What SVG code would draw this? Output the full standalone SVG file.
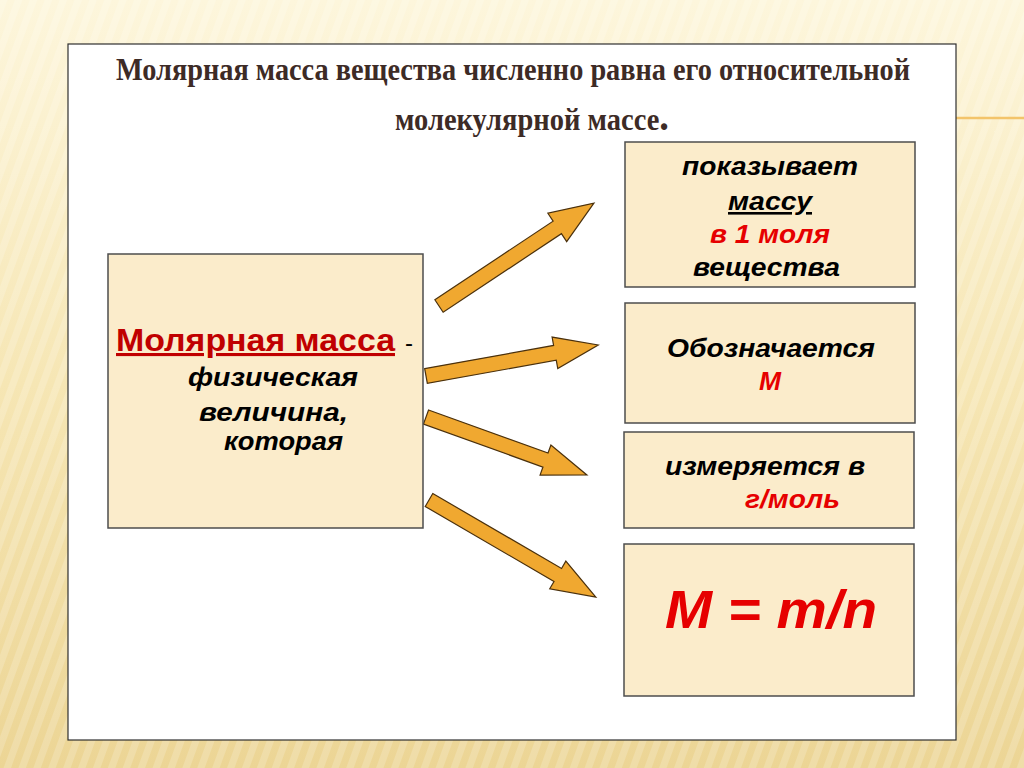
<svg xmlns="http://www.w3.org/2000/svg" width="1024" height="768" viewBox="0 0 1024 768">
  <defs>
    <linearGradient id="bg" x1="0" y1="0" x2="0" y2="1">
      <stop offset="0" stop-color="#fdf6dc"/>
      <stop offset="0.5" stop-color="#f6e6b4"/>
      <stop offset="1" stop-color="#ecd595"/>
    </linearGradient>
    <pattern id="stripes" width="14" height="14" patternUnits="userSpaceOnUse" patternTransform="rotate(20)">
      <rect width="7" height="14" fill="#ffffff" opacity="0.18"/>
    </pattern>
    <style>
      .box { fill: #fbeccb; stroke: #4d4d4d; stroke-width: 1.5; }
      .arrow { fill: #f0a830; stroke: #4a300c; stroke-width: 1.2; stroke-linejoin: miter; }
      .title { font-family: "Liberation Serif", "Times New Roman", serif; font-weight: bold; fill: #3d2b26; font-size: 31px; }
      .t { font-family: "Liberation Sans", Arial, sans-serif; font-weight: bold; font-style: italic; font-size: 26px; fill: #000; }
      .red { fill: #e60000; }
      .dred { fill: #c00000; }
    </style>
  </defs>

  <!-- background -->
  <rect x="0" y="0" width="1024" height="768" fill="url(#bg)"/>
  <rect x="0" y="0" width="1024" height="768" fill="url(#stripes)"/>
  <line x1="940" y1="118" x2="1024" y2="118" stroke="#f3c46a" stroke-width="2.5"/>

  <!-- white panel -->
  <rect x="68" y="44" width="888" height="696" fill="#ffffff" stroke="#2f2f2f" stroke-width="1.2"/>

  <!-- title -->
  <g id="title">
    <text class="title" x="116" y="80" textLength="794" lengthAdjust="spacingAndGlyphs">Молярная масса вещества численно равна его относительной</text>
    <text class="title" x="395" y="130" textLength="274" lengthAdjust="spacingAndGlyphs">молекулярной массе<tspan style="font-size:42px">.</tspan></text>
  </g>

  <!-- connectors -->
  <g id="connectors">
    <polygon class="arrow" transform="translate(439,306) rotate(-33.6)" points="0,-7.5 142,-7.5 142,-17 186,0 142,17 142,7.5 0,7.5"/>
    <polygon class="arrow" transform="translate(426,376) rotate(-10.2)" points="0,-7.5 131,-7.5 131,-16 175,0 131,16 131,7.5 0,7.5"/>
    <polygon class="arrow" transform="translate(426,417) rotate(19.8)" points="0,-7.5 127,-7.5 127,-16 171,0 127,16 127,7.5 0,7.5"/>
    <polygon class="arrow" transform="translate(429,500) rotate(30.2)" points="0,-7.5 149,-7.5 149,-16 193,0 149,16 149,7.5 0,7.5"/>
  </g>

  <!-- left node -->
  <g id="node-molar-mass">
    <rect class="box" x="108" y="254" width="315" height="274"/>
    <text x="116" y="351" font-family="Liberation Sans, Arial, sans-serif" font-weight="bold" font-size="31" class="dred" text-decoration="underline" textLength="279" lengthAdjust="spacingAndGlyphs">Молярная масса</text>
    <text x="405" y="351" font-family="Liberation Sans, Arial, sans-serif" font-size="24" fill="#000">-</text>
    <text class="t" x="188" y="386" textLength="170" lengthAdjust="spacingAndGlyphs">физическая</text>
    <text class="t" x="199" y="421" textLength="149" lengthAdjust="spacingAndGlyphs">величина,</text>
    <text class="t" x="224" y="450" textLength="119" lengthAdjust="spacingAndGlyphs">которая</text>
  </g>

  <!-- right nodes -->
  <g id="node-shows">
    <rect class="box" x="625" y="142" width="290" height="145"/>
    <text class="t" x="682" y="175" textLength="176" lengthAdjust="spacingAndGlyphs">показывает</text>
    <text class="t" x="728" y="210" textLength="84" lengthAdjust="spacingAndGlyphs" text-decoration="underline">массу</text>
    <text class="t red" x="710" y="243" textLength="120" lengthAdjust="spacingAndGlyphs">в 1 моля</text>
    <text class="t" x="693" y="276" textLength="147" lengthAdjust="spacingAndGlyphs">вещества</text>
  </g>

  <g id="node-symbol">
    <rect class="box" x="625" y="303" width="290" height="120"/>
    <text class="t" x="667" y="357" textLength="208" lengthAdjust="spacingAndGlyphs">Обозначается</text>
    <text class="t red" x="759" y="390" textLength="22" lengthAdjust="spacingAndGlyphs">М</text>
  </g>

  <g id="node-units">
    <rect class="box" x="624" y="432" width="290" height="96"/>
    <text class="t" x="665" y="475" textLength="200" lengthAdjust="spacingAndGlyphs">измеряется в</text>
    <text class="t red" x="745" y="508" textLength="95" lengthAdjust="spacingAndGlyphs">г/моль</text>
  </g>

  <g id="node-formula">
    <rect class="box" x="624" y="544" width="290" height="152"/>
    <text class="t red" x="665" y="628" style="font-size:54px" textLength="212" lengthAdjust="spacingAndGlyphs">M = m/n</text>
  </g>
</svg>
